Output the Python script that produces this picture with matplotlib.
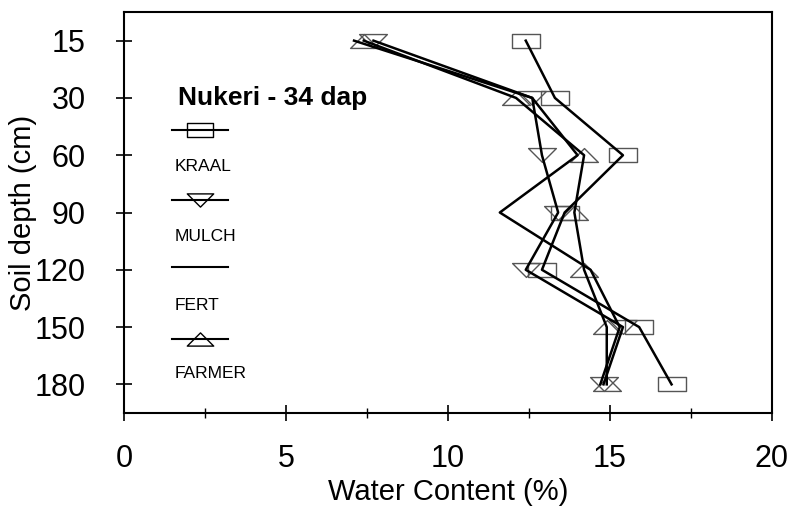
import matplotlib
matplotlib.use("Agg")
import matplotlib.pyplot as plt
from matplotlib.path import Path
from matplotlib.ticker import MultipleLocator
import numpy as np

plt.rcParams['font.family'] = ['Liberation Sans', 'DejaVu Sans']

depths = ["15", "30", "60", "90", "120", "150", "180"]
kraal = [12.4, 13.3, 15.4, 13.6, 12.9, 15.9, 16.9]
mulch = [7.7, 12.6, 12.9, 13.4, 12.4, 15.4, 14.8]
fert = [7.1, 12.6, 14.0, 11.6, 14.4, 15.3, 14.7]
farmer = [7.4, 12.1, 14.2, 13.9, 14.2, 14.9, 14.9]
series_names = ["KRAAL", "MULCH", "FERT", "FARMER"]
title_text = "Nukeri - 34 dap"

rect = Path([(-1, -0.5), (1, -0.5), (1, 0.5), (-1, 0.5), (-1, -0.5)],
            [Path.MOVETO, Path.LINETO, Path.LINETO, Path.LINETO, Path.CLOSEPOLY])
tri_down = Path([(-1, 0.5), (1, 0.5), (0, -0.5), (-1, 0.5)],
                [Path.MOVETO, Path.LINETO, Path.LINETO, Path.CLOSEPOLY])
tri_up = Path([(-1, -0.5), (1, -0.5), (0, 0.5), (-1, -0.5)],
              [Path.MOVETO, Path.LINETO, Path.LINETO, Path.CLOSEPOLY])

W, H = 791, 511
fig = plt.figure(figsize=(W / 100, H / 100), dpi=100)
L, R, T, B = 124, 772, 12, 413
ax = fig.add_axes([L / W, 1 - B / H, (R - L) / W, (B - T) / H])

ypos = np.arange(len(depths))
mstyle = dict(markersize=20, markerfacecolor='none', markeredgecolor='#555555',
              markeredgewidth=1.0)
series = [(kraal, rect), (mulch, tri_down), (fert, None), (farmer, tri_up)]
for vals, mk in series:
    if mk is not None:
        ax.plot(vals, ypos, linestyle='none', marker=mk, **mstyle, zorder=2)
    ax.plot(vals, ypos, color='black', lw=1.8, zorder=3)

ax.set_xlim(0, 20)
ax.set_ylim(6.5, -0.5)
ax.set_yticks(ypos)
ax.set_yticklabels(depths)
ax.xaxis.set_major_locator(MultipleLocator(5))
ax.xaxis.set_minor_locator(MultipleLocator(2.5))
ax.tick_params(axis='both', which='major', direction='inout', length=11,
               width=1.2, labelsize=22)
ax.tick_params(axis='x', which='major', pad=17)
ax.tick_params(axis='y', which='major', pad=22)
ax.tick_params(axis='x', which='minor', direction='inout', length=7, width=1.0)
for s in ax.spines.values():
    s.set_linewidth(1.5)

ax.set_xlabel("Water Content (%)", fontsize=21, labelpad=3)
ax.set_ylabel("Soil depth (cm)", fontsize=21)
ax.yaxis.set_label_coords((37 - L) / (R - L), 0.5)

# legend drawn manually
tr = ax.transAxes
ax.text(0.083, 0.786, title_text, transform=tr, fontsize=19, fontweight='bold',
        va='center', ha='left')
handle_y = [0.706, 0.532, 0.363, 0.184]
label_y = [0.614, 0.440, 0.269, 0.0995]
markers = [rect, tri_down, None, tri_up]
x0 = (172 - L) / (R - L)
x1 = (228 - L) / (R - L)
xt = (175 - L) / (R - L)
for name, hy, ly, mk in zip(series_names, handle_y, label_y, markers):
    ax.plot([x0, x1], [hy, hy], transform=tr, color='black', lw=1.5)
    if mk is not None:
        ax.plot([(x0 + x1) / 2], [hy], transform=tr, marker=mk, markersize=19,
                markerfacecolor='none', markeredgecolor='black',
                markeredgewidth=1.0)
    ax.text(xt, ly, name, transform=tr, fontsize=12.5, va='center', ha='left')

fig.savefig("out.png", dpi=100)
